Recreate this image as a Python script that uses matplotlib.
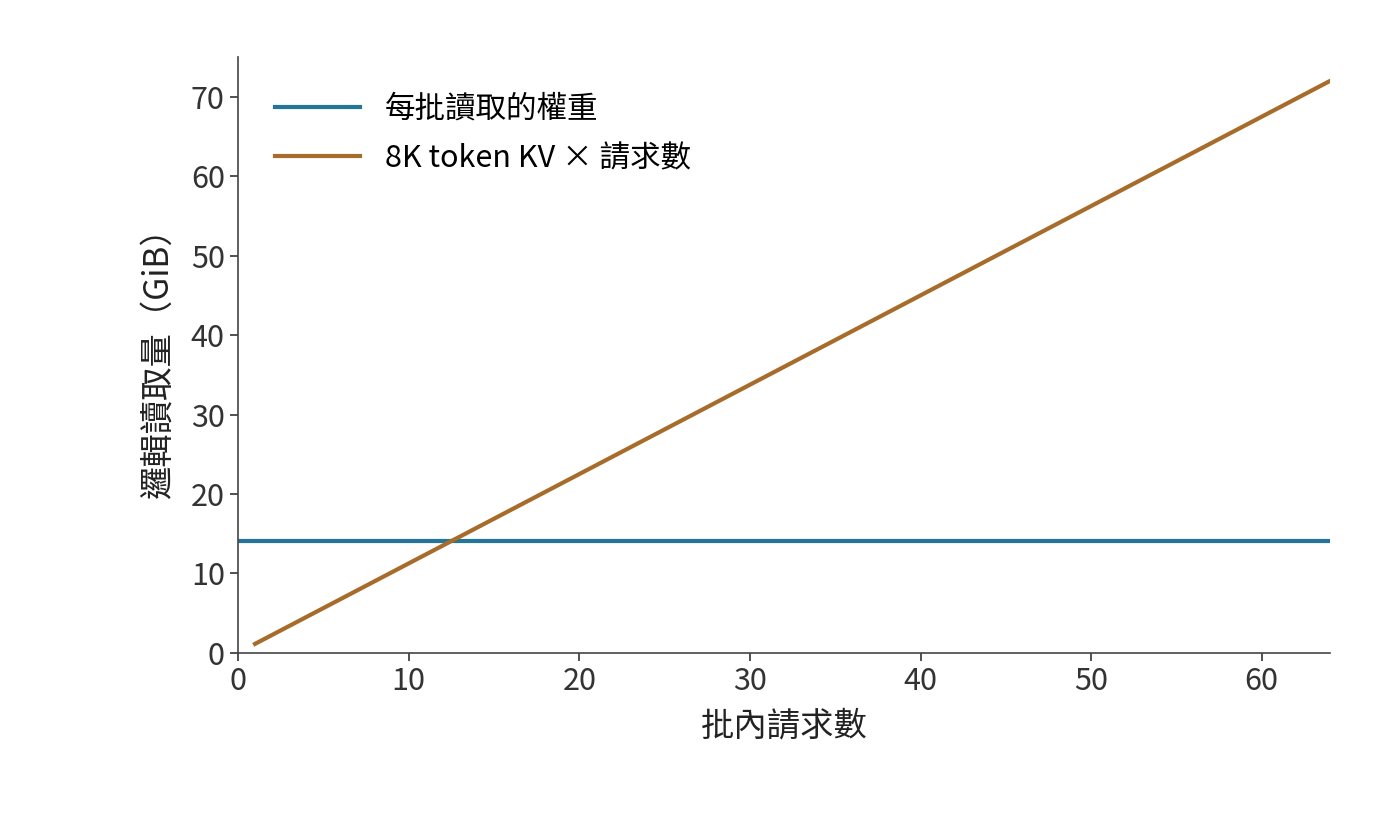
import matplotlib
matplotlib.use("Agg")
import matplotlib.pyplot as plt

plt.rcParams['font.family'] = ['Noto Sans CJK TC', 'DejaVu Sans']

# 資料
weights_x = [0, 64]
weights_gib = [14.1, 14.1]
batch = [1, 64]
kv_gib = [1.125, 72]

fig = plt.figure(figsize=(14, 8.16), dpi=100)
ax = fig.add_axes([0.17, 0.20, 0.78, 0.73])

ax.plot(weights_x, weights_gib, color='#23769a', lw=3, label='每批讀取的權重')
ax.plot(batch, kv_gib, color='#a86c2a', lw=3, label='8K token KV × 請求數')

ax.set_xlim(0, 64)
ax.set_ylim(0, 75)
ax.set_xticks([0, 10, 20, 30, 40, 50, 60])
ax.set_yticks([0, 10, 20, 30, 40, 50, 60, 70])
ax.tick_params(labelsize=22, colors='#333333', length=6, width=1.2)
ax.set_xlabel('批內請求數', fontsize=24, color='#222222', labelpad=8)
ax.set_ylabel('邏輯讀取量（GiB）', fontsize=24, color='#222222', labelpad=10)
for s in ['top', 'right']:
    ax.spines[s].set_visible(False)
for s in ['left', 'bottom']:
    ax.spines[s].set_color('#444444')
    ax.spines[s].set_linewidth(1.2)

ax.legend(loc='upper left', frameon=False, fontsize=22, handlelength=2.8,
          borderaxespad=0.8, labelspacing=0.6)

fig.savefig('out.png')
